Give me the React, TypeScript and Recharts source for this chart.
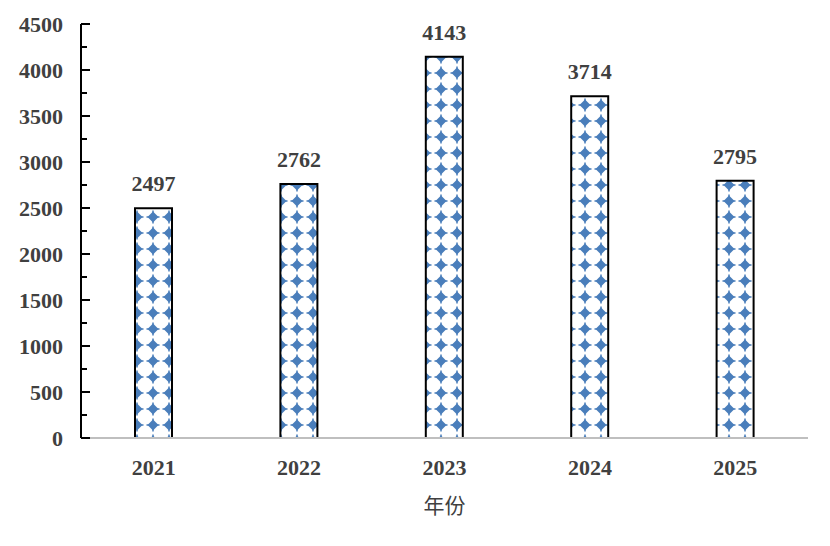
import React from "react";
import { BarChart, Bar, XAxis, YAxis, LabelList } from "recharts";

const years = ["2021", "2022", "2023", "2024", "2025"];
const counts = [2497, 2762, 4143, 3714, 2795];
const yTicks = [0, 250, 500, 750, 1000, 1250, 1500, 1750, 2000, 2250, 2500, 2750, 3000, 3250, 3500, 3750, 4000, 4250, 4500];

const data = years.map((year, i) => ({ year, count: counts[i] }));

const TEXT = "#404040";
const BLUE = "#4a7ebb";
const SERIF = "'Times New Roman', 'Liberation Serif', serif";

// y tick: label every 500, short inward tick between
function YTick(props: any) {
  const { x, y, payload } = props;
  const major = payload.value % 500 === 0;
  return (
    <g>
      <line x1={x} x2={x + (major ? 9 : 6)} y1={y} y2={y} stroke="#000" strokeWidth={2} />
      {major && (
        <text x={x - 18} y={y} dy="0.35em" textAnchor="end" fill={TEXT} fontSize={22} fontWeight="bold" fontFamily={SERIF}>
          {payload.value}
        </text>
      )}
    </g>
  );
}

export default function App() {
  return (
    <BarChart
      width={822}
      height={530}
      data={data}
      margin={{ top: 16, right: 22, bottom: 20, left: 0 }}
      barSize={37}
    >
      <defs>
        <pattern id="dots" patternUnits="userSpaceOnUse" x={-7} y={-7} width={16} height={16}>
          <rect width={16} height={16} fill="#fff" />
          <polygon points="8,2.5 13.5,8 8,13.5 2.5,8" fill={BLUE} />
          <rect x={7.25} y={1.5} width={1.5} height={13} fill={BLUE} />
          <rect x={1.5} y={7.25} width={13} height={1.5} fill={BLUE} />
        </pattern>
      </defs>
      <XAxis
        xAxisId="bottom"
        dataKey="year"
        axisLine={{ stroke: "#bfbfbf", strokeWidth: 2 }}
        tickLine={false}
        tickSize={0}
        tickMargin={21}
        height={80}
        tick={{ fill: TEXT, fontSize: 22, fontWeight: "bold", fontFamily: SERIF }}
        label={{ value: "年份", position: "insideBottom", offset: 5, fill: TEXT, fontSize: 21, fontFamily: "'Noto Sans CJK SC', sans-serif" }}
      />
      <XAxis xAxisId="top" dataKey="year" orientation="top" height={0} tick={false} tickLine={false} axisLine={{ stroke: "#000", strokeWidth: 2 }} />
      <YAxis
        yAxisId="left"
        domain={[0, 4500]}
        ticks={yTicks}
        interval={0}
        width={73}
        tickSize={0}
        tickMargin={0}
        tickLine={false}
        axisLine={{ stroke: "#000", strokeWidth: 2 }}
        tick={<YTick />}
      />
      <YAxis yAxisId="right" orientation="right" domain={[0, 4500]} width={0} tick={false} tickLine={false} axisLine={{ stroke: "#000", strokeWidth: 2 }} />
      <Bar xAxisId="bottom" yAxisId="left" dataKey="count" fill="url(#dots)" stroke="#000" strokeWidth={2} isAnimationActive={false}>
        <LabelList dataKey="count" position="top" offset={17} fill={TEXT} fontSize={22} fontWeight="bold" fontFamily={SERIF} />
      </Bar>
    </BarChart>
  );
}
